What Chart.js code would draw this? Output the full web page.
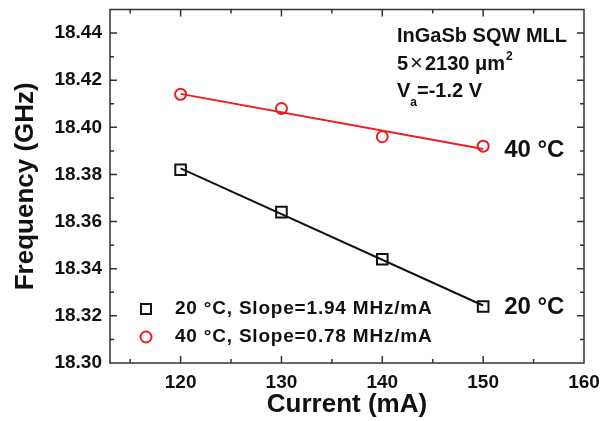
<!DOCTYPE html>
<html>
<head>
<meta charset="utf-8">
<script src="https://cdn.jsdelivr.net/npm/chart.js@4.4.0/dist/chart.umd.min.js"></script>
<style>
  html, body { margin: 0; padding: 0; background: #fff; }
</style>
</head>
<body>
<canvas id="freqChart" width="604" height="421"></canvas>
<script>
// measured data
const currents = [120, 130, 140, 150];
const freq20 = [18.382, 18.364, 18.344, 18.324];
const freq40 = [18.414, 18.408, 18.396, 18.392];
// linear fit end points
const fitCurrents = [120, 150];
const fit20 = [18.3826, 18.3244];
const fit40 = [18.4142, 18.3908];
// axes
const xTickValues = [120, 130, 140, 150, 160];
const xMinorValues = [115, 125, 135, 145, 155];
const yTickValues = [18.30, 18.32, 18.34, 18.36, 18.38, 18.40, 18.42, 18.44];
const yMinorValues = [18.31, 18.33, 18.35, 18.37, 18.39, 18.41, 18.43];
const legendLabels = ['20 \u00B0C, Slope=1.94 MHz/mA', '40 \u00B0C, Slope=0.78 MHz/mA'];
const tempLabels = ['20 \u00B0C', '40 \u00B0C'];

const FONT = '"Liberation Sans", Arial, Helvetica, sans-serif';
const RED = '#ee1c1c';

function toPoints(xs, ys) {
    return xs.map((x, i) => ({ x: x, y: ys[i] }));
}

// frame, inward ticks, legend and notes
const decorPlugin = {
    id: 'decor',
    afterDraw(chart) {
        const ctx = chart.ctx;
        const { left, right, top, bottom } = chart.chartArea;
        const xs = chart.scales.x;
        const ys = chart.scales.y;
        ctx.save();
        ctx.strokeStyle = '#333';
        ctx.lineWidth = 1.5;
        ctx.strokeRect(left, top, right - left, bottom - top);

        ctx.beginPath();
        const tick = (vals, len, isX) => {
            vals.forEach(v => {
                if (isX) {
                    const p = xs.getPixelForValue(v);
                    if (p <= left + 1 || p >= right - 1) return;
                    ctx.moveTo(p, bottom); ctx.lineTo(p, bottom - len);
                    ctx.moveTo(p, top); ctx.lineTo(p, top + len);
                } else {
                    const p = ys.getPixelForValue(v);
                    if (p <= top + 1 || p >= bottom - 1) return;
                    ctx.moveTo(left, p); ctx.lineTo(left + len, p);
                    ctx.moveTo(right, p); ctx.lineTo(right - len, p);
                }
            });
        };
        tick(xTickValues, 7, true);
        tick(xMinorValues, 4, true);
        tick(yTickValues, 7, false);
        tick(yMinorValues, 4, false);
        ctx.stroke();

        // legend
        const lx = left + 36;
        const ly = [bottom - 54, bottom - 26];
        ctx.lineWidth = 2;
        ctx.strokeStyle = '#111';
        ctx.strokeRect(lx - 5, ly[0] - 5, 10, 10);
        ctx.strokeStyle = RED;
        ctx.beginPath();
        ctx.arc(lx, ly[1], 5.5, 0, Math.PI * 2);
        ctx.stroke();
        ctx.fillStyle = '#111';
        ctx.font = 'bold 19px ' + FONT;
        ctx.textBaseline = 'middle';
        ctx.textAlign = 'left';
        ctx.letterSpacing = '0.8px';
        ctx.fillText(legendLabels[0], lx + 29, ly[0]);
        ctx.fillText(legendLabels[1], lx + 29, ly[1]);
        ctx.letterSpacing = '0px';

        // temperature labels at the line ends
        ctx.font = 'bold 24px ' + FONT;
        const ex = xs.getPixelForValue(fitCurrents[1]) + 21;
        ctx.fillText(tempLabels[1], ex, ys.getPixelForValue(freq40[3]) + 4);
        ctx.fillText(tempLabels[0], ex, ys.getPixelForValue(freq20[3]) + 1);

        // device notes
        ctx.textBaseline = 'alphabetic';
        ctx.font = 'bold 20px ' + FONT;
        const nx = 397;
        ctx.fillText('InGaSb SQW MLL', nx, 42);
        let x = nx;
        ctx.fillText('5', x, 70); x += ctx.measureText('5').width + 2;
        ctx.font = '22px ' + FONT;
        ctx.fillText('\u00D7', x, 70); x += ctx.measureText('\u00D7').width + 2;
        ctx.font = 'bold 20px ' + FONT;
        ctx.fillText('2130 \u03BCm', x, 70); x += ctx.measureText('2130 \u03BCm').width + 1;
        ctx.font = 'bold 12px ' + FONT;
        ctx.fillText('2', x, 60);
        ctx.font = 'bold 20px ' + FONT;
        x = nx;
        ctx.fillText('V', x, 97); x += ctx.measureText('V').width;
        ctx.font = 'bold 12px ' + FONT;
        ctx.fillText('a', x, 106); x += ctx.measureText('a').width;
        ctx.font = 'bold 20px ' + FONT;
        ctx.fillText('=-1.2 V', x, 97);
        ctx.restore();
    }
};

const ctx = document.getElementById('freqChart').getContext('2d');
new Chart(ctx, {
    type: 'scatter',
    data: {
        datasets: [
            {
                label: 'fit20',
                data: toPoints(fitCurrents, fit20),
                showLine: true,
                borderColor: '#111',
                borderWidth: 2,
                pointRadius: 0
            },
            {
                label: 'fit40',
                data: toPoints(fitCurrents, fit40),
                showLine: true,
                borderColor: RED,
                borderWidth: 2,
                pointRadius: 0
            },
            {
                label: legendLabels[0],
                data: toPoints(currents, freq20),
                pointStyle: 'rect',
                pointRadius: 7.5,
                borderColor: '#111',
                backgroundColor: '#fff',
                borderWidth: 2
            },
            {
                label: legendLabels[1],
                data: toPoints(currents, freq40),
                pointStyle: 'circle',
                pointRadius: 5.5,
                borderColor: RED,
                backgroundColor: '#fff',
                borderWidth: 2
            }
        ]
    },
    options: {
        responsive: false,
        animation: false,
        devicePixelRatio: 1,
        layout: { padding: { top: 9, right: 20, left: 0, bottom: 0 } },
        plugins: {
            legend: { display: false },
            tooltip: { enabled: false }
        },
        scales: {
            x: {
                type: 'linear',
                min: 113,
                max: 160,
                afterBuildTicks: s => { s.ticks = xTickValues.map(v => ({ value: v })); },
                afterFit: s => { s.height = 58; s.paddingLeft = 0; s.paddingRight = 0; },
                grid: { display: false, drawTicks: false },
                border: { display: false },
                ticks: {
                    color: '#111',
                    padding: 8,
                    font: { family: FONT, size: 19, weight: 'bold' },
                    callback: v => String(v)
                },
                title: {
                    display: true,
                    text: 'Current (mA)',
                    color: '#111',
                    padding: { top: 0, bottom: 1 },
                    font: { family: FONT, size: 26, weight: 'bold', lineHeight: 1.2 }
                }
            },
            y: {
                type: 'linear',
                min: 18.30,
                max: 18.45,
                afterBuildTicks: s => { s.ticks = yTickValues.map(v => ({ value: v })); },
                afterFit: s => { s.width = 110; s.paddingTop = 0; s.paddingBottom = 0; },
                grid: { display: false, drawTicks: false },
                border: { display: false },
                ticks: {
                    color: '#111',
                    padding: 8,
                    font: { family: FONT, size: 19, weight: 'bold' },
                    callback: v => v.toFixed(2)
                },
                title: {
                    display: true,
                    text: 'Frequency (GHz)',
                    color: '#111',
                    padding: { top: 10, bottom: 0 },
                    font: { family: FONT, size: 26, weight: 'bold', lineHeight: 1.2 }
                }
            }
        }
    },
    plugins: [decorPlugin]
});
</script>
</body>
</html>
